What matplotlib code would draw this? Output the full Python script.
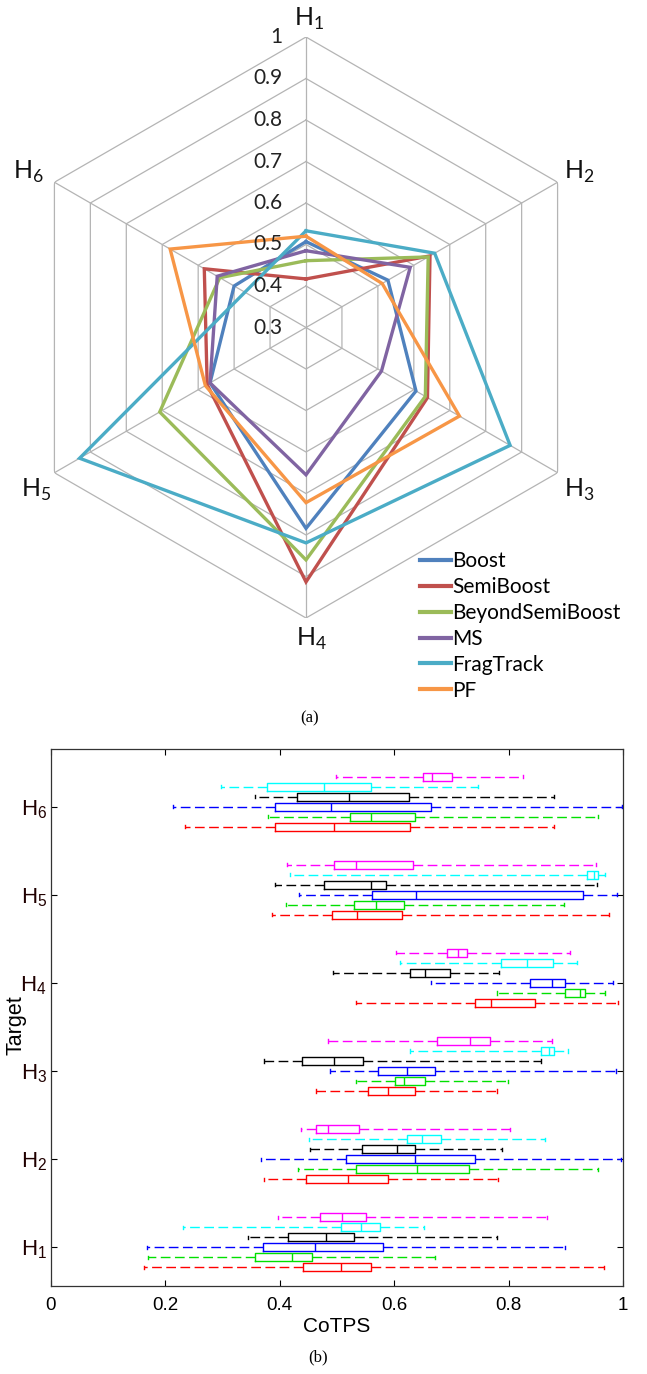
import numpy as np
import matplotlib
matplotlib.use("Agg")
import matplotlib.pyplot as plt
from matplotlib.lines import Line2D

plt.rcParams['mathtext.fontset'] = 'custom'
plt.rcParams['mathtext.rm'] = 'Lato'
plt.rcParams['mathtext.sf'] = 'Liberation Sans'

# ---------------- data: radar chart (a) ----------------
radar_axes = ['1', '2', '3', '4', '5', '6']
radar_ticks = [0.3, 0.4, 0.5, 0.6, 0.7, 0.8, 0.9, 1.0]
radar_tick_labels = ['0.3', '0.4', '0.5', '0.6', '0.7', '0.8', '0.9', '1']
methods = ['Boost', 'SemiBoost', 'BeyondSemiBoost', 'MS', 'FragTrack', 'PF']
boost = [0.507, 0.528, 0.606, 0.784, 0.567, 0.500]
semiboost = [0.417, 0.645, 0.638, 0.913, 0.575, 0.583]
beyondsemiboost = [0.461, 0.640, 0.632, 0.860, 0.707, 0.540]
ms = [0.485, 0.590, 0.510, 0.655, 0.567, 0.547]
fragtrack = [0.533, 0.658, 0.868, 0.819, 0.930, 0.470]
pf = [0.520, 0.512, 0.727, 0.722, 0.580, 0.678]
radar_colors = ['#4F81BD', '#C0504D', '#9BBB59', '#8064A2', '#4BACC6', '#F79646']

# ---------------- data: box plot (b) ----------------
targets = ['1', '2', '3', '4', '5', '6']
# (whisker low, q1, median, q3, whisker high) for H1..H6
red_stats = [(0.163, 0.441, 0.507, 0.559, 0.967), (0.373, 0.446, 0.519, 0.590, 0.781),
             (0.464, 0.554, 0.590, 0.636, 0.780), (0.533, 0.741, 0.770, 0.846, 0.991),
             (0.386, 0.492, 0.535, 0.614, 0.975), (0.234, 0.391, 0.495, 0.628, 0.879)]
green_stats = [(0.170, 0.357, 0.422, 0.457, 0.672), (0.431, 0.534, 0.639, 0.730, 0.957),
               (0.533, 0.601, 0.617, 0.654, 0.799), (0.780, 0.899, 0.925, 0.933, 0.968),
               (0.410, 0.530, 0.568, 0.617, 0.897), (0.379, 0.522, 0.559, 0.636, 0.956)]
blue_stats = [(0.168, 0.370, 0.462, 0.580, 0.899), (0.368, 0.515, 0.636, 0.741, 0.996),
              (0.488, 0.572, 0.623, 0.672, 0.988), (0.664, 0.837, 0.875, 0.899, 0.983),
              (0.433, 0.562, 0.638, 0.930, 0.990), (0.214, 0.391, 0.490, 0.664, 0.999)]
black_stats = [(0.344, 0.415, 0.480, 0.530, 0.780), (0.452, 0.543, 0.605, 0.636, 0.788),
               (0.372, 0.438, 0.495, 0.546, 0.856), (0.493, 0.628, 0.654, 0.697, 0.783),
               (0.391, 0.478, 0.559, 0.586, 0.954), (0.357, 0.430, 0.521, 0.626, 0.879)]
cyan_stats = [(0.230, 0.507, 0.542, 0.575, 0.652), (0.451, 0.622, 0.648, 0.681, 0.864),
              (0.628, 0.857, 0.870, 0.879, 0.903), (0.611, 0.786, 0.833, 0.878, 0.920),
              (0.417, 0.937, 0.950, 0.956, 0.968), (0.298, 0.378, 0.478, 0.559, 0.747)]
magenta_stats = [(0.396, 0.470, 0.509, 0.551, 0.867), (0.437, 0.464, 0.485, 0.539, 0.802),
                 (0.484, 0.674, 0.733, 0.767, 0.876), (0.604, 0.693, 0.712, 0.728, 0.908),
                 (0.412, 0.495, 0.533, 0.633, 0.952), (0.499, 0.650, 0.666, 0.701, 0.825)]
box_series = [red_stats, green_stats, blue_stats, black_stats, cyan_stats, magenta_stats]
box_colors = ['#FF0000', '#00E000', '#0000FF', '#000000', '#00FFFF', '#FF00FF']
box_offsets = [-0.227, -0.114, 0.0, 0.114, 0.227, 0.341]
x_ticks = [0, 0.2, 0.4, 0.6, 0.8, 1]
x_tick_labels = ['0', '0.2', '0.4', '0.6', '0.8', '1']

W, H = 647, 1374
fig = plt.figure(figsize=(W / 100, H / 100), dpi=100)

# ---------------- radar ----------------
cx, cy, R = 306, 327.5, 290.5
ax = fig.add_axes([(cx - R) / W, 1 - (cy + R) / H, 2 * R / W, 2 * R / H], projection='polar')
ax.set_theta_zero_location('N')
ax.set_theta_direction(-1)
ax.set_ylim(radar_ticks[0], radar_ticks[-1])
ax.grid(False)
ax.spines['polar'].set_visible(False)
ax.set_xticks([])
ax.set_yticks([])
ax.patch.set_alpha(0)

n = len(radar_axes)
theta = np.deg2rad(np.arange(n + 1) * 360.0 / n)
grid_col = '#B4B4B4'
for v in radar_ticks[1:]:
    ax.plot(theta, [v] * (n + 1), color=grid_col, lw=0.9, zorder=1)
for t in theta[:-1]:
    ax.plot([t, t], [radar_ticks[0], radar_ticks[-1]], color=grid_col, lw=0.9, zorder=1)

series = [boost, semiboost, beyondsemiboost, ms, fragtrack, pf]
for vals, col, name in zip(series, radar_colors, methods):
    ax.plot(theta, list(vals) + [vals[0]], color=col, lw=2.4, zorder=3,
            solid_joinstyle='miter', label=name)

for v, lab in zip(radar_ticks, radar_tick_labels):
    ax.annotate(lab, xy=(0, v), xytext=(-24, 0), textcoords='offset pixels',
                ha='right', va='center', fontsize=15, family='Lato', color='#222222',
                annotation_clip=False)

lab_off = [(3, 18), (22, 10), (22, -17), (5, -21), (-18, -17), (-26, 10)]
for i, (nm, off) in enumerate(zip(radar_axes, lab_off)):
    ax.annotate(r'$\mathrm{H}_{%s}$' % nm, xy=(theta[i], radar_ticks[-1]), xytext=off,
                textcoords='offset pixels', ha='center', va='center', fontsize=18,
                color='#111111', annotation_clip=False)

leg_handles = [Line2D([0], [0], color=c, lw=3) for c in radar_colors]
fig.legend(leg_handles, methods, loc='upper left',
           bbox_to_anchor=(420 / W, 1 - 551 / H), frameon=False,
           prop={'family': 'Lato', 'size': 15}, handlelength=1.5,
           handletextpad=0.05, labelspacing=0.285, borderpad=0, borderaxespad=0)

fig.text(310 / W, 1 - 718 / H, '(a)', ha='center', va='center',
         family='Liberation Serif', fontsize=12)

# ---------------- box plot ----------------
bx = fig.add_axes([51 / W, 1 - 1286 / H, 572 / W, 537 / H])
pos_base = np.arange(1, len(targets) + 1)
for stats_list, col, off in zip(box_series, box_colors, box_offsets):
    stats = [dict(whislo=s[0], q1=s[1], med=s[2], q3=s[3], whishi=s[4]) for s in stats_list]
    kw = dict(positions=pos_base + off, widths=0.088, showfliers=False,
              boxprops=dict(color=col, lw=1.0),
              whiskerprops=dict(color=col, lw=1.0, ls=(0, (7, 3.2))),
              capprops=dict(color=col, lw=1.0),
              medianprops=dict(color=col, lw=1.0), capwidths=0.035)
    try:
        bx.bxp(stats, orientation='horizontal', **kw)
    except TypeError:
        bx.bxp(stats, vert=False, **kw)

bx.set_xlim(0, 1)
bx.set_ylim(0.56, 6.655)
bx.set_xticks(x_ticks)
bx.set_xticklabels(x_tick_labels, family='Liberation Sans', fontsize=13.5)
bx.set_yticks(pos_base)
bx.set_yticklabels([r'$\mathsf{H_{%s}}$' % t for t in targets], fontsize=16, color='#200000')
bx.tick_params(direction='in', length=4, top=True, right=True, width=0.8)
bx.tick_params(axis='x', pad=8)
bx.tick_params(axis='y', pad=3)
for sp in bx.spines.values():
    sp.set_color('#333333')
    sp.set_linewidth(0.9)
bx.set_xlabel('CoTPS', family='Liberation Sans', fontsize=15, labelpad=2)
bx.set_ylabel('Target', family='Liberation Sans', fontsize=15.5)
bx.yaxis.set_label_coords(-0.042, (1286 - 1025) / 537)

fig.text(318 / W, 1 - 1357 / H, '(b)', ha='center', va='center',
         family='Liberation Serif', fontsize=12)

fig.savefig('out.png', dpi=100)
